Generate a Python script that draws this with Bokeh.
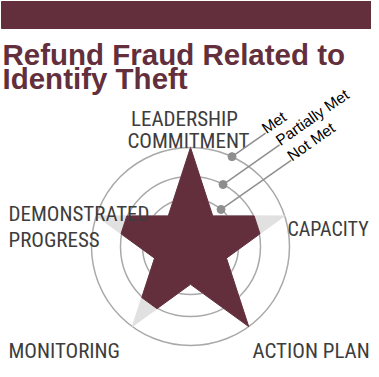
import numpy as np
from bokeh.plotting import figure
from bokeh.models import Range1d
from bokeh.core.properties import value
from bokeh.embed import file_html
from bokeh.resources import INLINE

# ---------------- data ----------------
title_lines = ["Refund Fraud Related to", "Identify Theft"]
categories = ["LEADERSHIP COMMITMENT", "CAPACITY", "ACTION PLAN", "MONITORING", "DEMONSTRATED PROGRESS"]
label_lines = [["LEADERSHIP", "COMMITMENT"], ["CAPACITY"], ["ACTION PLAN"], ["MONITORING"], ["DEMONSTRATED", "PROGRESS"]]
levels = ["Not Met", "Partially Met", "Met"]
level_values = [1, 2, 3]
ratings = [3, 2, 3, 2, 2]   # per category, 3 = Met, 2 = Partially Met, 1 = Not Met

# ---------------- style / layout ----------------
PW, PH = 371, 369          # plot size (page margin 8px)
H = 377                    # window height, used to flip screen y
MAROON = "#632f3c"
LABEL = "#3d3d3d"
RING = "#a9a9a9"
GHOST = "#e1e1e1"
LEG = "#8e8e8e"
cx, cy = 198.0, H - 254.0
ring_radius = {1: 48.0, 2: 70.0, 3: 99.0}
inner_ratio = 0.382
LABEL_FONT = "Roboto Condensed"

p = figure(width=PW, height=PH, x_range=Range1d(8, 8 + PW), y_range=Range1d(0, PH),
           output_backend="svg", toolbar_location=None, min_border=0,
           x_axis_type=None, y_axis_type=None)
p.grid.visible = False
p.outline_line_color = None
p.background_fill_color = "white"
p.border_fill_color = "white"

# header bar
p.quad(left=9, right=8 + PW, top=H - 9, bottom=H - 36, color=MAROON)

# title
p.text(x=[10, 10], y=[H - 62, H - 86], text=title_lines,
       text_font=value("Liberation Sans"), text_font_style="bold",
       text_font_size="29.5px", text_color=MAROON,
       text_align="left", text_baseline="alphabetic")

# rings
p.circle(x=[cx] * 3, y=[cy] * 3, radius=[ring_radius[v] for v in level_values],
         fill_color=None, line_color=RING, line_width=1.5)

# star geometry
n = len(categories)
angles = np.deg2rad(90 - 360.0 / n * np.arange(n))
half = np.pi / n
R = ring_radius[max(level_values)]
ri = R * inner_ratio

def pt(r, a):
    return cx + r * np.cos(a), cy + r * np.sin(a)

gx, gy = [], []
for a in angles:
    x, y = pt(R, a); gx.append(x); gy.append(y)
    x, y = pt(ri, a - half); gx.append(x); gy.append(y)
p.patch(gx, gy, color=GHOST)

# maroon star: arms cut perpendicular at the rated ring
mx, my = [], []
proj_inner = ri * np.cos(half)
for a, v in zip(angles, ratings):
    tip = np.array(pt(R, a))
    ip = np.array(pt(ri, a + half))
    inx = np.array(pt(ri, a - half))
    r = ring_radius[v]
    if v == max(level_values):
        mx.append(tip[0]); my.append(tip[1])
    else:
        t = (r - proj_inner) / (R - proj_inner)
        p1 = ip + t * (tip - ip)
        p2 = inx + t * (tip - inx)
        mx += [p1[0], p2[0]]; my += [p1[1], p2[1]]
    mx.append(inx[0]); my.append(inx[1])
p.patch(mx, my, color=MAROON)

# category labels
label_anchor = [  # (x, screen baseline y, align, size) per line
    [(192, 126, "center", "21px"), (196, 148, "center", "21px")],
    [(295, 236, "left", "20px")],
    [(260, 358, "left", "21px")],
    [(16, 358, "left", "21px")],
    [(16, 221, "left", "21px"), (16, 247, "left", "21px")],
]
for lines, anchors in zip(label_lines, label_anchor):
    for s, (x, y, al, sz) in zip(lines, anchors):
        p.text(x=[x], y=[H - y], text=[s],
               text_font=value(LABEL_FONT), text_font_size=sz,
               text_color=LABEL, text_align=al, text_baseline="alphabetic")

# legend callouts
dot_angle = {3: 65.2, 2: 62.3, 1: 50.5}
line_len = {3: 41.0, 2: 69.0, 1: 85.5}
lead = np.deg2rad(35)
d = np.array([np.cos(lead), np.sin(lead)])
perp = np.array([-np.sin(lead), np.cos(lead)])
for lv, name in zip(level_values, levels):
    dot = np.array(pt(ring_radius[lv], np.deg2rad(dot_angle[lv])))
    end = dot + line_len[lv] * d
    p.line([dot[0], end[0]], [dot[1], end[1]], line_color=LEG, line_width=1.5)
    p.scatter([dot[0]], [dot[1]], size=8, color=LEG)
    tp = end + 4 * perp
    p.text(x=[tp[0]], y=[tp[1]], text=[name], angle=lead,
           text_font=value("Liberation Sans"), text_font_size="15.5px",
           text_color="black", text_align="left", text_baseline="alphabetic")

open("out.html", "w").write(file_html(p, INLINE))
